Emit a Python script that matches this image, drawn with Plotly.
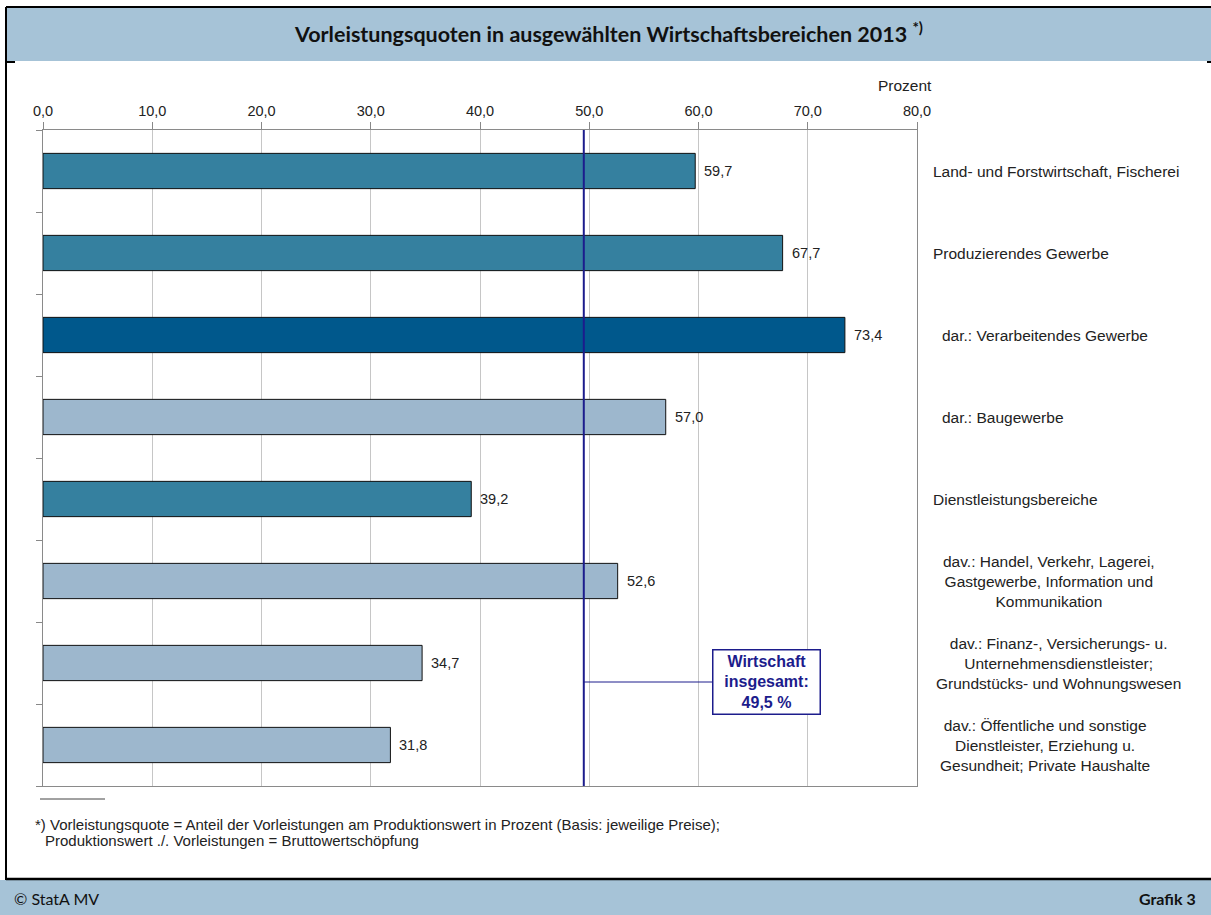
import plotly.graph_objects as go

# --- data -------------------------------------------------------------
categories = [
    "Land- und Forstwirtschaft, Fischerei",
    "Produzierendes Gewerbe",
    "dar.: Verarbeitendes Gewerbe",
    "dar.: Baugewerbe",
    "Dienstleistungsbereiche",
    "dav.: Handel, Verkehr, Lagerei,<br>Gastgewerbe, Information und<br>Kommunikation",
    "dav.: Finanz-, Versicherungs- u.<br>Unternehmensdienstleister;<br>Grundstücks- und Wohnungswesen",
    "dav.: Öffentliche und sonstige<br>Dienstleister, Erziehung u.<br>Gesundheit; Private Haushalte",
]
values = [59.7, 67.7, 73.4, 57.0, 39.2, 52.6, 34.7, 31.8]
bar_colors = ["#35809f", "#35809f", "#00588c", "#9db7cd",
              "#35809f", "#9db7cd", "#9db7cd", "#9db7cd"]
total_value = 49.5
x_ticks = [0, 10, 20, 30, 40, 50, 60, 70, 80]

# --- page geometry (pixels) ------------------------------------------
W, H = 1211, 915
PL, PR, PT, PB = 43, 917, 130, 786  # plot area


def px(xp):
    return (xp - PL) / (PR - PL)


def py(yp):
    return (PB - yp) / (PB - PT)


def xval(xp):
    return (xp - PL) / (PR - PL) * 80


HEADER = "#a6c3d7"
NAVY = "#1c1c8c"
TXT = "#222222"
LBL_FONT = "Liberation Sans, Arial, sans-serif"
TITLE_FONT = "Lato, Open Sans, sans-serif"

pos = list(range(len(categories)))

fig = go.Figure()
fig.add_trace(go.Bar(
    x=values, y=pos, orientation="h",
    width=0.43,
    marker=dict(color=bar_colors, line=dict(color="#111111", width=1)),
    hoverinfo="skip",
))

annotations = []
# value labels at bar ends
for v, p in zip(values, pos):
    annotations.append(dict(
        x=v, y=p, xref="x", yref="y", xanchor="left", yanchor="middle",
        xshift=7, text=f"{v:.1f}".replace(".", ","), showarrow=False,
        font=dict(family=LBL_FONT, size=14.5, color=TXT),
    ))

# category labels to the right of the plot
label_pos = [
    (931, "left"), (931, "left"), (940, "left"), (940, "left"),
    (931, "left"), (1049, "center"), (1058, "center"), (1045, "center"),
]
for cat, p, (xp, anchor) in zip(categories, pos, label_pos):
    annotations.append(dict(
        x=px(xp), y=p, xref="paper", yref="y", xanchor=anchor,
        yanchor="middle", align="center", text=cat, showarrow=False,
        font=dict(family=LBL_FONT, size=15.5, color=TXT),
    ))

# axis unit
annotations.append(dict(
    x=px(905), y=py(86), xref="paper", yref="paper", xanchor="center",
    yanchor="middle", text="Prozent", showarrow=False,
    font=dict(family=LBL_FONT, size=15.5, color=TXT),
))

# overall-economy box
annotations.append(dict(
    x=px(766), y=py(682), xref="paper", yref="paper", xanchor="center",
    yanchor="middle", showarrow=False,
    text="<b>Wirtschaft<br>insgesamt:<br>49,5 %</b>",
    font=dict(family=LBL_FONT, size=16, color=NAVY),
    bordercolor=NAVY, borderwidth=1.5, borderpad=2, bgcolor="white",
    width=102,
))

# title
annotations.append(dict(
    x=px(608), y=py(33), xref="paper", yref="paper",
    xanchor="center", yanchor="middle", showarrow=False,
    text="<b>Vorleistungsquoten in ausgewählten Wirtschaftsbereichen 2013 <sup>*)</sup></b>",
    font=dict(family=TITLE_FONT, size=21.5, color="#111111"),
))

# footnote
annotations.append(dict(
    x=px(33), y=py(824), xref="paper", yref="paper", xanchor="left",
    yanchor="middle", showarrow=False, align="left",
    text="*) Vorleistungsquote = Anteil der Vorleistungen am Produktionswert in Prozent (Basis: jeweilige Preise);",
    font=dict(family=LBL_FONT, size=15, color=TXT),
))
annotations.append(dict(
    x=px(43), y=py(841), xref="paper", yref="paper", xanchor="left",
    yanchor="middle", showarrow=False, align="left",
    text="Produktionswert ./. Vorleistungen = Bruttowertschöpfung",
    font=dict(family=LBL_FONT, size=15, color=TXT),
))

# footer texts
annotations.append(dict(
    x=px(12), y=py(898), xref="paper", yref="paper", xanchor="left",
    yanchor="middle", showarrow=False, text="© StatA MV",
    font=dict(family=TITLE_FONT, size=16, color="#111111"),
))
annotations.append(dict(
    x=px(1198), y=py(898), xref="paper", yref="paper", xanchor="right",
    yanchor="middle", showarrow=False, text="<b>Grafik 3</b>",
    font=dict(family=TITLE_FONT, size=16, color="#111111"),
))

shapes = [
    # header band and frame
    dict(type="rect", xref="paper", yref="paper", x0=px(6), x1=px(W),
         y0=py(61), y1=py(7), fillcolor=HEADER, line=dict(width=0), layer="below"),
    dict(type="line", xref="paper", yref="paper", x0=px(6), x1=px(W),
         y0=py(7), y1=py(7), line=dict(color="black", width=2)),
    dict(type="line", xref="paper", yref="paper", x0=px(6), x1=px(6),
         y0=py(7), y1=py(880), line=dict(color="black", width=2)),
    dict(type="line", xref="paper", yref="paper", x0=px(6), x1=px(15),
         y0=py(62), y1=py(62), line=dict(color="black", width=2)),
    dict(type="line", xref="paper", yref="paper", x0=px(1207), x1=px(W),
         y0=py(62), y1=py(62), line=dict(color="black", width=2)),
    # footer band
    dict(type="rect", xref="paper", yref="paper", x0=px(0), x1=px(W),
         y0=py(H), y1=py(880), fillcolor=HEADER, line=dict(width=0), layer="below"),
    dict(type="line", xref="paper", yref="paper", x0=px(6), x1=px(W),
         y0=py(879), y1=py(879), line=dict(color="black", width=2.5)),
    # footnote separator
    dict(type="line", xref="paper", yref="paper", x0=px(40), x1=px(105),
         y0=py(799), y1=py(799), line=dict(color="#444444", width=1)),
    # overall-economy reference line and connector
    dict(type="line", xref="x", yref="paper", x0=total_value, x1=total_value,
         y0=0, y1=1, line=dict(color=NAVY, width=2)),
    dict(type="line", xref="x", yref="paper", x0=total_value, x1=xval(714),
         y0=py(682), y1=py(682), line=dict(color=NAVY, width=1)),
]

fig.update_layout(
    width=W, height=H,
    margin=dict(l=PL, r=W - PR, t=PT, b=H - PB, pad=0),
    paper_bgcolor="white", plot_bgcolor="white",
    separators=",.",
    showlegend=False,
    annotations=annotations,
    shapes=shapes,
    xaxis=dict(
        side="top", range=[0, 80], tickvals=x_ticks, tickformat=".1f",
        ticks="outside", ticklen=7, tickcolor="#888888",
        showgrid=True, gridcolor="#c6c6c6", gridwidth=1,
        showline=True, linecolor="#8a8a8a", mirror=True, zeroline=False,
        tickfont=dict(family=LBL_FONT, size=14.5, color=TXT),
    ),
    yaxis=dict(
        range=[len(categories) - 0.5, -0.5],
        tickvals=[i - 0.5 for i in range(len(categories) + 1)],
        showticklabels=False,
        ticks="outside", ticklen=6, tickcolor="#888888",
        showgrid=False, showline=True, linecolor="#8a8a8a", mirror=True,
        zeroline=False,
    ),
)

fig.write_html("out.html")
